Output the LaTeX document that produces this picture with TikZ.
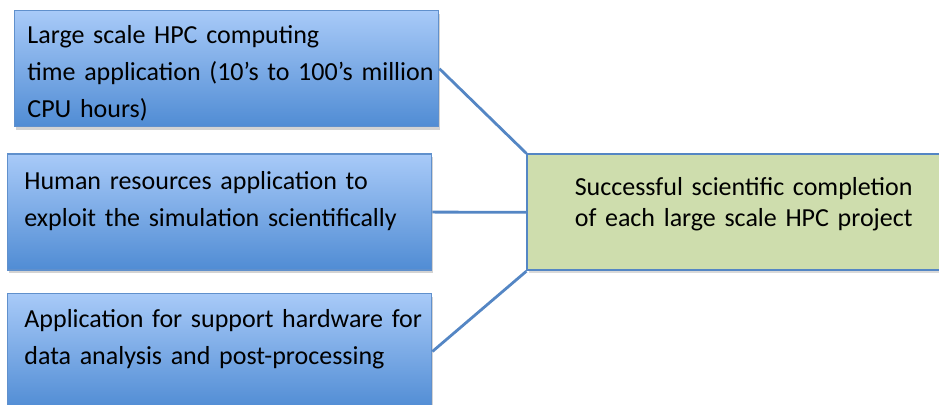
\documentclass[tikz,border=0pt]{standalone}
\usepackage{fontspec}
\setmainfont{Carlito}
\usetikzlibrary{positioning,shadows}

\definecolor{boxtop}{RGB}{168,202,248}
\definecolor{boxbot}{RGB}{80,140,212}
\definecolor{boxedge}{RGB}{96,144,204}
\definecolor{linkblue}{RGB}{84,134,196}
\definecolor{goalfill}{RGB}{206,221,173}

\begin{document}
\begin{tikzpicture}[x=0.5pt,y=-0.5pt,
                    link/.style={draw=linkblue,line width=1.4pt}]
	  \tikzstyle{appbox}=[rectangle,draw=boxedge,line width=0.7pt,top color=boxtop,bottom color=boxbot,
	    minimum width=212pt,minimum height=58pt,inner sep=0pt,anchor=north west,
	    drop shadow={opacity=0.35,shadow xshift=0.6pt,shadow yshift=-1.6pt}]
	  \tikzstyle{goal}=[rectangle,draw=linkblue,line width=0.9pt,fill=goalfill,
	    minimum width=220pt,minimum height=58pt,inner sep=0pt,anchor=north west,
	    drop shadow={opacity=0.3,shadow xshift=0.6pt,shadow yshift=-1.2pt}]
	  \tikzstyle{boxtext}=[inner sep=0pt,text width=220pt,align=left,text=black,
	    font=\fontsize{13}{18.5}\selectfont]

	  \useasboundingbox (0,0) rectangle (939,405);
	  \clip (0,0) rectangle (939,405);

	  \node[appbox]   (hpcbox)   at (14,10) {};
	  \node[appbox]   (staffbox) [below=13pt of hpcbox.south west,anchor=north west,xshift=-3.5pt] {};
	  \node[appbox]   (hwbox)    [below=11pt of staffbox.south west,anchor=north west] {};
	  \node[goal]     (goalbox)  [right=47pt of staffbox.north east,anchor=north west] {};

	  \node[boxtext]  (hpctext)   [below right=7.4pt and 6.5pt of hpcbox.north west]
	    {Large scale HPC computing\\time application (10’s to 100’s million\\CPU hours)};
	  \node[boxtext]  (stafftext) [below right=9pt and 8.5pt of staffbox.north west]
	    {Human resources application to\\exploit the simulation scientifically};
	  \node[boxtext]  (hwtext)    [below right=8pt and 8.5pt of hwbox.north west]
	    {Application for support hardware for\\data analysis and post-processing};
	  \node[boxtext,font=\fontsize{13}{15.5}\selectfont] (goaltext) [below right=11.8pt and 24pt of goalbox.north west]
	    {Successful scientific completion\\of each large scale HPC project};

	  \path[link] (hpcbox.east) -- (goalbox.north west)
	    (staffbox.east) -- (goalbox.west)
	    (hwbox.east) -- (goalbox.south west);
	\end{tikzpicture}
\end{document}
